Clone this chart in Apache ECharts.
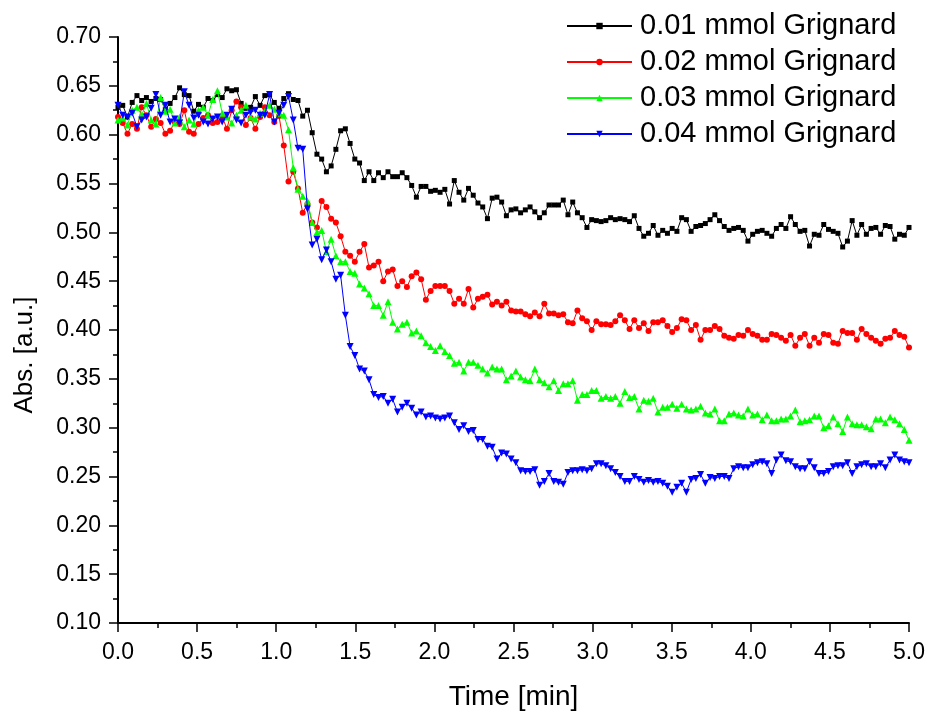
<!DOCTYPE html>
<html>
<head>
<meta charset="utf-8">
<script src="https://cdn.jsdelivr.net/npm/echarts@6/dist/echarts.min.js"></script>
<style>html,body{margin:0;padding:0;background:#fff;}#chart{width:929px;height:716px;}</style>
</head>
<body>
<div id="chart"></div>
<script>
const seriesNames = ['0.01 mmol Grignard', '0.02 mmol Grignard', '0.03 mmol Grignard', '0.04 mmol Grignard'];
const xTickLabels = ['0.0','0.5','1.0','1.5','2.0','2.5','3.0','3.5','4.0','4.5','5.0'];
const yTickLabels = ['0.10','0.15','0.20','0.25','0.30','0.35','0.40','0.45','0.50','0.55','0.60','0.65','0.70'];

const black = [
0.628,0.630,0.618,0.633,0.640,0.635,0.638,0.634,0.637,0.636,
0.626,0.632,0.638,0.648,0.641,0.640,0.624,0.631,0.628,0.637,
0.635,0.641,0.638,0.647,0.645,0.646,0.632,0.627,0.628,0.639,
0.630,0.640,0.641,0.633,0.627,0.637,0.642,0.636,0.635,
0.619,0.625,0.602,0.580,0.575,0.562,0.568,0.585,0.604,0.606,
0.591,0.575,0.571,0.553,0.562,0.553,0.561,0.556,0.562,0.557,
0.557,0.561,0.556,0.548,0.536,0.547,0.547,0.542,0.543,
0.541,0.544,0.529,0.553,0.541,0.533,0.545,
0.538,0.530,0.526,0.514,0.535,0.536,0.531,0.517,0.523,0.524,
0.520,0.523,0.526,0.521,0.515,0.520,0.528,0.528,0.528,0.533,
0.518,0.531,0.520,0.515,0.505,0.513,0.512,0.511,0.512,0.515,
0.513,0.514,0.513,0.511,0.517,0.504,0.496,0.499,0.507,0.497,
0.502,0.499,0.504,0.501,
0.515,0.513,0.501,0.506,0.507,0.509,0.513,0.518,0.512,0.506,
0.502,0.504,0.505,0.502,0.491,0.498,0.501,0.502,0.499,0.496,
0.504,0.508,0.504,0.516,0.508,0.501,0.502,0.486,0.498,0.497,
0.508,0.503,0.501,0.499,0.485,0.491,0.512,0.497,0.508,0.498,
0.504,0.505,0.498,0.507,0.506,0.493,0.498,0.497,0.505
];

const red = [
0.618,0.612,0.601,0.611,0.606,0.628,0.620,0.608,0.616,0.612,
0.601,0.604,0.613,0.611,0.625,0.603,0.601,0.611,0.617,0.620,
0.612,0.613,0.618,0.606,0.625,0.634,0.628,0.610,0.617,0.606,
0.618,0.628,0.620,0.613,0.619,0.589,0.552,0.562,0.545,
0.520,0.529,0.510,0.505,0.532,0.526,0.514,0.510,0.496,0.480,
0.476,0.470,0.480,0.488,0.464,0.466,0.470,0.450,0.460,0.462,
0.445,0.450,0.444,0.455,0.459,0.452,0.431,0.440,0.445,0.445,
0.445,0.440,0.427,0.432,0.427,0.442,0.423,0.432,
0.434,0.436,0.426,0.429,0.425,0.429,0.420,0.419,0.419,0.416,
0.414,0.418,0.414,0.427,0.417,0.417,0.415,0.416,0.408,0.407,
0.420,0.412,0.409,0.400,0.409,0.406,0.406,0.405,0.409,0.415,
0.410,0.401,0.410,0.402,0.407,0.399,0.408,0.408,0.410,0.404,
0.398,0.402,
0.411,0.410,0.400,0.405,0.390,0.400,0.400,0.404,0.401,0.394,
0.392,0.391,0.395,0.394,0.400,0.396,0.394,0.390,0.390,0.396,
0.395,0.392,0.389,0.395,0.384,0.392,0.396,0.384,0.392,0.387,
0.396,0.395,0.387,0.386,0.399,0.397,0.397,0.390,0.401,0.396,
0.392,0.389,0.386,0.391,0.392,0.399,0.395,0.393,0.382
];

const green = [
0.615,0.617,0.610,0.625,0.628,0.620,0.632,0.615,0.611,0.638,
0.624,0.626,0.612,0.618,0.608,0.615,0.611,0.625,0.628,0.620,
0.636,0.645,0.622,0.618,0.612,0.620,0.625,0.630,0.618,0.616,
0.622,0.624,0.630,0.626,0.622,0.620,0.605,0.566,0.544,
0.537,0.532,0.510,0.500,0.502,0.480,0.493,0.476,0.470,0.470,
0.460,0.458,0.447,0.443,0.437,0.425,0.425,0.415,0.429,0.408,
0.401,0.406,0.408,0.397,0.399,0.394,0.387,0.383,0.379,0.384,
0.378,0.374,0.366,0.367,0.358,0.367,0.367,0.364,
0.360,0.356,0.362,0.360,0.360,0.349,0.353,0.358,0.352,0.349,
0.348,0.360,0.349,0.346,0.342,0.348,0.338,0.345,0.345,0.348,
0.328,0.334,0.334,0.338,0.338,0.330,0.332,0.330,0.332,0.325,
0.337,0.331,0.332,0.319,0.328,0.327,0.330,0.316,0.321,0.321,
0.324,0.320,
0.324,0.319,0.318,0.319,0.322,0.315,0.314,0.319,0.307,0.307,
0.314,0.315,0.313,0.312,0.319,0.313,0.314,0.308,0.313,0.307,
0.307,0.309,0.309,0.312,0.318,0.306,0.307,0.308,0.312,0.312,
0.300,0.302,0.311,0.304,0.296,0.311,0.304,0.303,0.303,0.301,
0.299,0.309,0.309,0.305,0.311,0.308,0.304,0.298,0.287
];

const blue = [
0.630,0.620,0.618,0.622,0.608,0.615,0.618,0.627,0.641,0.620,
0.630,0.613,0.616,0.612,0.644,0.630,0.617,0.620,0.613,0.611,
0.616,0.618,0.613,0.620,0.626,0.615,0.612,0.620,0.623,0.625,
0.620,0.620,0.641,0.613,0.622,0.630,0.639,0.615,0.586,0.585,
0.524,0.487,0.493,0.472,0.482,0.470,0.452,0.456,0.415,0.383,
0.374,0.360,0.358,0.349,0.334,0.331,0.332,0.325,0.329,0.316,
0.321,0.325,0.320,0.313,0.316,0.311,0.312,0.310,0.309,
0.310,0.312,0.305,0.298,0.302,0.296,0.297,0.288,0.288,0.281,
0.280,0.268,0.274,0.273,0.268,0.264,0.256,0.255,0.255,0.257,
0.241,0.245,0.253,0.245,0.244,0.242,0.254,0.256,0.256,0.257,
0.256,0.258,0.263,0.263,0.261,0.258,0.254,0.250,0.245,0.245,
0.250,0.247,0.244,0.246,0.244,0.245,0.243,0.240,0.234,0.239,
0.243,0.234,0.247,0.248,0.252,0.243,0.249,0.248,0.250,0.250,
0.248,0.258,0.260,0.259,0.259,0.262,0.264,0.265,0.263,0.253,
0.267,0.272,0.266,0.265,0.260,0.258,0.258,0.265,0.259,0.253,
0.253,0.255,0.260,0.261,0.261,0.264,0.253,0.260,0.262,0.263,
0.260,0.260,0.263,0.259,0.267,0.272,0.267,0.265,0.264
];

// sampling grid (min): equally spaced scans from 0 to 5 min
const sampleStep = 5 / 167;
const times = black.map((_, i) => +(i * sampleStep).toFixed(4));

const FONT = "'Liberation Sans', Arial, Helvetica, sans-serif";
const colors = ['#000000', '#ff0000', '#00ff00', '#0000ff'];
const symbols = ['rect', 'circle', 'triangle', 'triangle'];
const symbolSizes = [5, 6, 7, 7];
const symbolRotates = [0, 0, 0, 180];
const values = [black, red, green, blue];

const chart = echarts.init(document.getElementById('chart'), null, {renderer: 'canvas'});

const series = values.map((vals, k) => ({
  name: seriesNames[k],
  type: 'line',
  data: vals.map((v, i) => [times[i], v]),
  symbol: symbols[k],
  symbolSize: symbolSizes[k],
  symbolRotate: symbolRotates[k],
  showSymbol: true,
  showAllSymbol: true,
  color: colors[k],
  itemStyle: {color: colors[k]},
  lineStyle: {color: colors[k], width: 1},
  animation: false,
  z: 2 + k
}));

chart.setOption({
  backgroundColor: '#ffffff',
  animation: false,
  grid: {left: 118, right: 20, top: 37, bottom: 92, containLabel: false},
  legend: {
    orient: 'vertical',
    left: 566,
    top: 8,
    padding: 0,
    itemGap: 0,
    itemWidth: 65,
    itemHeight: 8,
    data: seriesNames,
    textStyle: {fontFamily: FONT, fontSize: 29, color: '#000', lineHeight: 36, padding: [0, 0, 0, 3]}
  },
  xAxis: {
    type: 'value',
    min: 0, max: 5, interval: 0.5,
    name: 'Time [min]',
    nameLocation: 'middle',
    nameGap: 60,
    nameTextStyle: {fontFamily: FONT, fontSize: 28, color: '#000'},
    axisLine: {lineStyle: {color: '#000', width: 2}},
    axisTick: {show: true, inside: false, length: 9, lineStyle: {color: '#000', width: 1.5}},
    minorTick: {show: true, splitNumber: 2, length: 5, lineStyle: {color: '#000', width: 1.5}},
    axisLabel: {fontFamily: FONT, fontSize: 23, color: '#000', margin: 18,
      formatter: v => xTickLabels[Math.round(v / 0.5)] || v.toFixed(1)},
    splitLine: {show: false}
  },
  yAxis: {
    type: 'value',
    min: 0.10, max: 0.70, interval: 0.05,
    name: 'Abs. [a.u.]',
    nameLocation: 'middle',
    nameGap: 80,
    nameRotate: 90,
    nameTextStyle: {fontFamily: FONT, fontSize: 26, color: '#000', padding: [0, 50, 0, 0]},
    axisLine: {show: true, lineStyle: {color: '#000', width: 2}},
    axisTick: {show: true, inside: false, length: 9, lineStyle: {color: '#000', width: 1.5}},
    minorTick: {show: true, splitNumber: 2, length: 5, lineStyle: {color: '#000', width: 1.5}},
    axisLabel: {fontFamily: FONT, fontSize: 23, color: '#000', margin: 17,
      formatter: v => yTickLabels[Math.round((v - 0.10) / 0.05)] || v.toFixed(2)},
    splitLine: {show: false}
  },
  series: series
});
</script>
</body>
</html>
